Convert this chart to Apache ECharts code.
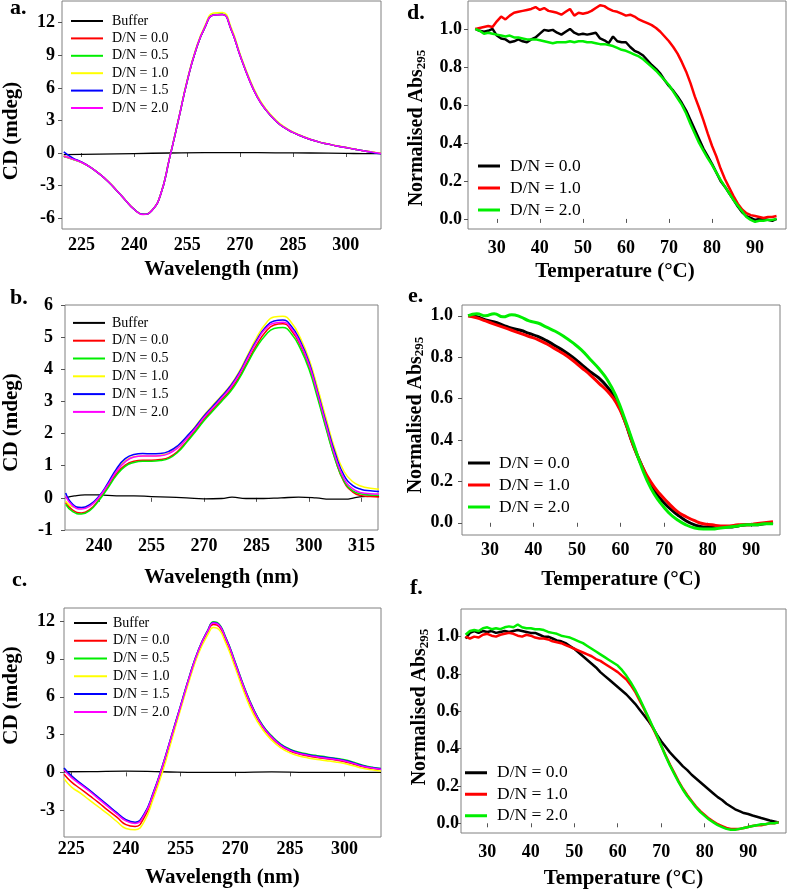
<!DOCTYPE html>
<html><head><meta charset="utf-8">
<script src="https://cdn.jsdelivr.net/npm/echarts@6/dist/echarts.min.js"></script>
<style>html,body{margin:0;padding:0;background:#fff}#c{width:787px;height:891px}</style>
</head><body><div id="c"></div>
<script>
// ---------------- DATA ----------------
// Panel a
const waveA = [220,222.5,225,227.5,230,232.5,235,237.5,240,242.5,245,247.5,250,252.5,255,257.5,260,262.5,265,267.5,270,272.5,275,277.5,280,282.5,285,287.5,290,292.5,295,297.5,300,302.5,305,307.5,310];
const bufXA = [220,230,240,250,260,270,280,290,300,305,310];
const bufA  = [-0.15,-0.1,-0.05,0.0,0.03,0.03,0.02,0.0,-0.03,-0.06,-0.05];
const cdA00 = [-0.3,-0.55,-0.85,-1.3,-1.9,-2.6,-3.45,-4.35,-5.2,-5.65,-5.3,-3.8,-0.5,3.0,6.6,9.5,11.55,12.7,12.75,11.35,9.0,6.85,5.1,3.9,3.0,2.35,1.9,1.55,1.25,1.0,0.82,0.65,0.5,0.35,0.2,0.08,-0.05];
const cdA05 = [-0.32,-0.57,-0.86,-1.3,-1.9,-2.6,-3.45,-4.35,-5.2,-5.65,-5.3,-3.8,-0.5,3.0,6.6,9.5,11.55,12.75,12.8,11.4,9.05,6.9,5.15,3.9,3.0,2.35,1.9,1.55,1.25,1.0,0.82,0.65,0.5,0.35,0.2,0.08,-0.05];
const cdA10 = [-0.28,-0.55,-0.85,-1.3,-1.88,-2.58,-3.43,-4.33,-5.18,-5.63,-5.28,-3.78,-0.45,3.05,6.7,9.62,11.7,12.9,12.95,11.55,9.15,7.0,5.25,4.0,3.1,2.42,1.95,1.6,1.28,1.02,0.84,0.67,0.52,0.36,0.21,0.09,-0.04];
const cdA15 = [0.1,-0.45,-0.82,-1.3,-1.9,-2.6,-3.45,-4.35,-5.2,-5.65,-5.3,-3.8,-0.5,3.0,6.6,9.5,11.55,12.7,12.75,11.35,9.0,6.85,5.1,3.9,3.0,2.35,1.9,1.55,1.25,1.0,0.82,0.65,0.5,0.35,0.2,0.05,-0.08];
const cdA20 = [-0.3,-0.55,-0.85,-1.3,-1.9,-2.6,-3.45,-4.35,-5.2,-5.67,-5.3,-3.8,-0.5,3.0,6.6,9.5,11.55,12.7,12.75,11.35,9.0,6.85,5.1,3.9,3.0,2.35,1.9,1.55,1.25,1.0,0.82,0.65,0.5,0.35,0.2,0.08,-0.05];
const xTicksA = [225,240,255,270,285,300];
const yTicksA = [-6,-3,0,3,6,9,12];

// Panel b
const waveB = [230.5,232.5,235,237.5,240,242.5,245,247.5,250,252.5,255,257.5,260,262.5,265,267.5,270,272.5,275,277.5,280,282.5,285,287.5,290,292.5,295,297.5,300,302.5,305,307.5,310,312.5,315,317.5,320];
const bufXB = [230.5,233,236,240,245,250,255,260,265,270,275,278,282,287,292,297,302,306,310,314,317,320];
const bufB  = [0.0,0.06,0.09,0.09,0.06,0.06,0.04,0.02,0.0,-0.03,-0.02,0.02,-0.02,-0.02,0.0,0.02,0.0,-0.04,-0.04,0.02,0.05,0.05];
const cdB00 = [-0.15,-0.38,-0.47,-0.35,-0.05,0.35,0.75,1.02,1.14,1.17,1.17,1.19,1.26,1.45,1.75,2.1,2.45,2.75,3.05,3.35,3.75,4.25,4.75,5.15,5.38,5.42,5.2,4.75,4.1,3.15,2.15,1.2,0.5,0.18,0.07,0.04,0.03];
const cdB05 = [-0.2,-0.43,-0.5,-0.38,-0.08,0.3,0.7,0.98,1.1,1.14,1.14,1.16,1.23,1.42,1.72,2.05,2.4,2.7,3.0,3.3,3.7,4.2,4.68,5.05,5.27,5.3,5.1,4.65,4.0,3.08,2.1,1.18,0.52,0.22,0.12,0.09,0.08];
const cdB10 = [-0.1,-0.28,-0.32,-0.22,0.02,0.42,0.85,1.15,1.28,1.3,1.3,1.32,1.4,1.58,1.88,2.22,2.57,2.88,3.18,3.5,3.92,4.45,4.98,5.4,5.63,5.65,5.45,4.98,4.32,3.4,2.42,1.48,0.82,0.5,0.36,0.3,0.27];
const cdB15 = [0.15,-0.2,-0.3,-0.2,0.05,0.45,0.9,1.22,1.35,1.38,1.37,1.38,1.45,1.62,1.9,2.2,2.55,2.85,3.15,3.47,3.88,4.4,4.9,5.3,5.5,5.53,5.33,4.88,4.22,3.28,2.3,1.38,0.7,0.38,0.26,0.22,0.2];
const cdB20 = [0.05,-0.25,-0.35,-0.25,0.02,0.4,0.82,1.12,1.27,1.3,1.3,1.31,1.38,1.55,1.83,2.15,2.5,2.8,3.1,3.42,3.83,4.35,4.85,5.25,5.43,5.46,5.26,4.8,4.15,3.22,2.22,1.28,0.6,0.28,0.16,0.13,0.12];
const xTicksB = [240,255,270,285,300,315];
const yTicksB = [-1,0,1,2,3,4,5,6];

// Panel c
const waveC = [223,225,227.5,230,232.5,235,237.5,240,242.5,245,247.5,250,252.5,255,257.5,260,262.5,264,265,267.5,270,272.5,275,277.5,280,282.5,285,287.5,290,292.5,295,297.5,300,302.5,305,307.5,310];
const bufXC = [223,230,240,250,260,270,280,290,300,310];
const bufC  = [0.05,0.06,0.1,0.05,0.0,0.0,0.04,0.0,0.0,0.0];
const cdC00 = [-0.15,-0.75,-1.3,-1.85,-2.4,-3.0,-3.55,-4.15,-4.3,-3.6,-1.85,0.3,2.75,5.2,7.6,9.7,11.2,11.75,11.7,10.45,8.55,6.55,4.85,3.6,2.75,2.1,1.7,1.45,1.3,1.18,1.08,0.98,0.85,0.65,0.45,0.32,0.22];
const cdC05 = [0.3,-0.3,-0.9,-1.45,-2.05,-2.65,-3.25,-3.8,-4.0,-3.35,-1.65,0.48,2.9,5.3,7.7,9.8,11.3,11.95,11.9,10.65,8.75,6.75,5.05,3.75,2.9,2.25,1.85,1.6,1.45,1.33,1.23,1.12,1.0,0.8,0.56,0.4,0.3];
const cdC10 = [-0.5,-1.15,-1.65,-2.2,-2.75,-3.3,-3.9,-4.45,-4.55,-3.9,-2.1,0.0,2.5,5.0,7.4,9.5,10.95,11.5,11.45,10.2,8.3,6.3,4.6,3.4,2.55,1.95,1.55,1.3,1.15,1.02,0.93,0.83,0.7,0.52,0.33,0.2,0.1];
const cdC15 = [0.35,-0.25,-0.85,-1.4,-2.0,-2.6,-3.2,-3.75,-3.95,-3.3,-1.6,0.5,2.9,5.3,7.7,9.8,11.3,11.9,11.85,10.6,8.7,6.7,5.0,3.7,2.85,2.2,1.8,1.55,1.4,1.28,1.18,1.08,0.95,0.75,0.52,0.38,0.28];
const cdC20 = [0.2,-0.4,-0.95,-1.5,-2.1,-2.7,-3.3,-3.85,-4.05,-3.4,-1.7,0.45,2.85,5.25,7.65,9.75,11.25,11.85,11.8,10.55,8.65,6.65,4.95,3.65,2.8,2.15,1.75,1.5,1.35,1.23,1.13,1.03,0.9,0.7,0.48,0.35,0.25];
const xTicksC = [225,240,255,270,285,300];
const yTicksC = [-3,0,3,6,9,12];

// Panel d
const tempD = [25,26,27,28,29,30,31,32,33,34,35,36,37,38,39,40,41,42,43,44,45,46,47,48,49,50,51,52,53,54,55,56,57,58,59,60,61,62,63,64,65,66,67,68,69,70,71,72,73,74,75,76,77,78,79,80,81,82,83,84,85,86,87,88,89,90,91,92,93,94,95];
const absD00 = [1.0,0.99,0.985,0.99,1.0,0.965,0.95,0.945,0.93,0.935,
  0.945,0.935,0.93,0.945,0.955,0.975,0.995,0.99,0.995,0.98,
  0.97,0.985,1.0,0.98,0.97,0.975,0.97,0.975,0.98,0.95,
  0.94,0.925,0.96,0.935,0.93,0.93,0.905,0.885,0.875,0.86,
  0.835,0.81,0.79,0.765,0.73,0.7,0.675,0.645,0.61,0.57,
  0.52,0.47,0.42,0.37,0.33,0.29,0.245,0.2,0.17,0.135,
  0.1,0.065,0.035,0.015,0.005,-0.005,0.0,0.0,-0.005,-0.01,0.0];
const absD10 = [1.0,1.005,1.01,1.015,1.01,1.04,1.065,1.05,1.07,1.085,
  1.09,1.095,1.1,1.105,1.115,1.1,1.11,1.095,1.09,1.085,
  1.075,1.09,1.105,1.07,1.085,1.08,1.085,1.095,1.11,1.125,
  1.12,1.105,1.095,1.09,1.08,1.07,1.075,1.065,1.05,1.04,
  1.03,1.02,1.005,0.985,0.96,0.935,0.905,0.87,0.825,0.775,
  0.715,0.645,0.585,0.52,0.45,0.385,0.33,0.265,0.21,0.165,
  0.12,0.08,0.05,0.03,0.02,0.015,0.01,0.005,0.01,0.01,0.015];
const absD20 = [1.0,0.99,0.975,0.98,0.975,0.97,0.965,0.96,0.965,0.955,
  0.955,0.95,0.945,0.945,0.945,0.94,0.935,0.93,0.925,0.93,
  0.93,0.93,0.935,0.93,0.935,0.935,0.93,0.93,0.925,0.92,
  0.92,0.915,0.91,0.9,0.89,0.885,0.875,0.865,0.855,0.84,
  0.82,0.8,0.78,0.755,0.73,0.705,0.67,0.635,0.6,0.555,
  0.5,0.45,0.4,0.36,0.32,0.285,0.245,0.205,0.17,0.135,
  0.1,0.07,0.04,0.01,-0.005,-0.015,-0.01,-0.01,-0.005,-0.005,0.0];
const xTicksT = [30,40,50,60,70,80,90];
const yTicksN = [0,0.2,0.4,0.6,0.8,1.0];

// Panel e
const tempE = [25,27,29,31,33,35,37,39,41,43,45,47,49,51,53,55,57,59,61,63,65,67,69,71,73,75,77,79,81,83,85,87,89,91,93,95];
const absE00 = [1.0,0.995,0.98,0.97,0.955,0.94,0.93,0.915,0.9,0.88,0.855,0.83,0.8,0.765,0.73,0.7,0.655,0.595,0.49,0.37,0.27,0.18,0.12,0.075,0.04,0.01,-0.01,-0.02,-0.02,-0.02,-0.02,-0.015,-0.01,-0.01,-0.005,0.0];
const absE10 = [1.0,0.99,0.975,0.96,0.945,0.93,0.915,0.9,0.885,0.865,0.84,0.815,0.785,0.75,0.715,0.675,0.635,0.58,0.49,0.37,0.27,0.195,0.14,0.095,0.055,0.03,0.01,-0.005,-0.01,-0.015,-0.015,-0.01,-0.01,-0.005,0.0,0.005];
const absE20 = [1.0,1.01,1.0,1.01,0.995,1.005,0.995,0.975,0.965,0.945,0.925,0.9,0.87,0.835,0.79,0.745,0.69,0.61,0.5,0.38,0.26,0.165,0.1,0.05,0.015,-0.01,-0.025,-0.03,-0.03,-0.025,-0.02,-0.015,-0.01,-0.01,-0.005,-0.005];

// Panel f
const tempF = [25,26,27,28,29,30,31,32,33,34,35,36,37,38,39,40,41,42,43,44,45,46,47,48,49,50,51,52,53,54,55,56,57,58,59,60,61,62,63,64,65,66,67,68,69,70,71,72,73,74,75,76,77,78,79,80,81,82,83,84,85,86,87,88,89,90,91,92,93,94,95,96,97];
const absF00 = [0.99,1.02,1.03,1.02,1.03,1.025,1.03,1.02,1.025,1.03,
  1.025,1.03,1.035,1.03,1.025,1.02,1.02,1.01,1.0,1.0,
  0.99,0.98,0.975,0.965,0.95,0.935,0.915,0.895,0.875,0.855,
  0.835,0.81,0.79,0.77,0.75,0.73,0.71,0.69,0.665,0.64,
  0.61,0.58,0.55,0.515,0.475,0.44,0.41,0.38,0.355,0.33,
  0.305,0.285,0.26,0.24,0.22,0.2,0.18,0.16,0.14,0.125,
  0.105,0.09,0.075,0.065,0.055,0.05,0.042,0.035,0.028,0.022,0.015,0.01,0.005];
const absF10 = [1.0,0.99,1.0,0.995,1.01,1.015,1.005,1.0,1.01,1.015,
  1.02,1.015,1.005,1.0,1.01,1.005,0.995,0.99,0.99,0.985,
  0.975,0.97,0.965,0.955,0.945,0.935,0.925,0.915,0.905,0.895,
  0.88,0.87,0.855,0.84,0.825,0.81,0.79,0.77,0.74,0.705,
  0.66,0.615,0.565,0.515,0.465,0.415,0.365,0.315,0.27,0.225,
  0.185,0.15,0.12,0.09,0.065,0.045,0.025,0.01,-0.005,-0.015,
  -0.025,-0.03,-0.03,-0.03,-0.025,-0.02,-0.015,-0.01,-0.01,-0.005,0.0,0.0,0.005];
const absF20 = [1.01,1.03,1.035,1.03,1.045,1.05,1.04,1.045,1.04,1.05,
  1.055,1.05,1.065,1.05,1.045,1.045,1.04,1.04,1.035,1.025,
  1.02,1.015,1.005,1.0,0.995,0.985,0.975,0.965,0.95,0.935,
  0.92,0.905,0.89,0.875,0.86,0.845,0.82,0.79,0.755,0.715,
  0.67,0.62,0.57,0.52,0.47,0.415,0.36,0.31,0.265,0.22,
  0.18,0.145,0.115,0.085,0.06,0.04,0.02,0.005,-0.01,-0.02,
  -0.03,-0.035,-0.035,-0.03,-0.025,-0.02,-0.015,-0.01,-0.005,-0.005,0.0,0.0,0.005];

const cdNames = ['Buffer','D/N = 0.0','D/N = 0.5','D/N = 1.0','D/N = 1.5','D/N = 2.0'];
const cdColors = ['#000000','#ff0000','#00ee00','#ffff00','#0000ff','#ff00ff'];
const tmNames = ['D/N = 0.0','D/N = 1.0','D/N = 2.0'];
const tmColors = ['#000000','#ff0000','#00ee00'];

// ---------------- CHART ----------------
const FONT = "'Liberation Serif','Times New Roman',serif";
function pairs(xs, ys){ return xs.map((x,i)=>[x, ys[i]]); }

const gridsPos = [
  {left:62, top:1, width:319, height:228},
  {left:65, top:305, width:313, height:225},
  {left:64, top:608, width:317, height:229},
  {left:468, top:1, width:318, height:228},
  {left:462, top:305, width:318, height:230},
  {left:461, top:609, width:325, height:224}
];
const grid = gridsPos.map(g => Object.assign({show:true, borderColor:'#808080', borderWidth:1, backgroundColor:'transparent', containLabel:false, outerBoundsMode:'none'}, g));

const tickStyle = {show:true, inside:false, length:4, lineStyle:{color:'#555', width:1}};
function xAx(gi, min, max, ticks, name, gap, margin, namePad){
  return {type:'value', gridIndex:gi, min:min, max:max, name:name, nameLocation:'middle', nameGap:gap,
    nameTextStyle:{fontFamily:FONT, fontWeight:'bold', fontSize:21, color:'#000', padding:namePad||0},
    axisLine:{show:false}, axisTick:Object.assign({customValues:ticks}, tickStyle), splitLine:{show:false},
    axisLabel:{customValues:ticks, margin:margin, fontFamily:FONT, fontWeight:'bold', fontSize:18, color:'#000'}};
}
function yAx(gi, min, max, ticks, name, gap, margin, namePad, dec, rich){
  const o = {type:'value', gridIndex:gi, min:min, max:max, name:name, nameLocation:'middle', nameGap:gap,
    nameTextStyle:{fontFamily:FONT, fontWeight:'bold', fontSize:21, color:'#000', padding:namePad||0},
    axisLine:{show:false}, axisTick:Object.assign({customValues:ticks}, tickStyle), splitLine:{show:false},
    axisLabel:{customValues:ticks, margin:margin, fontFamily:FONT, fontWeight:'bold', fontSize:18, color:'#000',
      formatter: dec ? (v => Number(v).toFixed(1)) : (v => String(v))}};
  if (rich) o.nameTextStyle.rich = rich;
  return o;
}
const absRich = {
  m:{fontFamily:FONT, fontWeight:'bold', fontSize:20, color:'#000', lineHeight:22},
  s:{fontFamily:FONT, fontWeight:'bold', fontSize:13, color:'#000', lineHeight:13, verticalAlign:'bottom'}
};
const absName = '{m|Normalised Abs}{s|295}';

const xAxis = [
  xAx(0, 219.5, 310, xTicksA, 'Wavelength (nm)', 30, 7),
  xAx(1, 230.3, 319.7, xTicksB, 'Wavelength (nm)', 37, 7),
  xAx(2, 223, 310, xTicksC, 'Wavelength (nm)', 30, 3),
  xAx(3, 23.3, 97.2, xTicksT, 'Temperature (\u00B0C)', 32, 10, [0,24,0,0]),
  xAx(4, 23.6, 96.6, xTicksT, 'Temperature (\u00B0C)', 34, 6),
  xAx(5, 23.95, 98.7, xTicksT, 'Temperature (\u00B0C)', 35, 10)
];
const yAxis = [
  yAx(0, -7, 14, yTicksA, 'CD (mdeg)', 40, 7, [0,32,0,0]),
  yAx(1, -1, 6, yTicksB, 'CD (mdeg)', 43, 12, [0,10,0,0]),
  yAx(2, -5.13, 13.05, yTicksC, 'CD (mdeg)', 42, 9, [0,0,0,54]),
  yAx(3, -0.053, 1.147, yTicksN, absName, 40, 6, [0,26,0,0], true, absRich),
  yAx(4, -0.059, 1.052, yTicksN, absName, 34, 9, [0,0,0,10], true, absRich),
  yAx(5, -0.052, 1.148, yTicksN, absName, 30, 2, [0,0,0,28], true, absRich)
];

const series = [];
function addCD(p, gi, bufX, buf, xs, sets){
  const all = [[bufX, buf]].concat(sets.map(s => [xs, s]));
  all.forEach((d, i) => {
    series.push({type:'line', name:p + '|' + cdNames[i], xAxisIndex:gi, yAxisIndex:gi,
      data:pairs(d[0], d[1]), showSymbol:false, symbol:'none', smooth:true,
      color:cdColors[i], lineStyle:{width: i === 0 ? 1.3 : 1.5, color:cdColors[i]}, z: 2 + i});
  });
}
function addTM(p, gi, xs, sets, w, smooth){
  sets.forEach((s, i) => {
    series.push({type:'line', name:p + '|' + tmNames[i], xAxisIndex:gi, yAxisIndex:gi,
      data:pairs(xs, s), showSymbol:false, symbol:'none', smooth:smooth,
      color:tmColors[i], lineStyle:{width:w, color:tmColors[i]}, z: 2 + i});
  });
}
addCD('a', 0, bufXA, bufA, waveA, [cdA00, cdA05, cdA10, cdA15, cdA20]);
addCD('b', 1, bufXB, bufB, waveB, [cdB00, cdB05, cdB10, cdB15, cdB20]);
addCD('c', 2, bufXC, bufC, waveC, [cdC00, cdC05, cdC10, cdC15, cdC20]);
addTM('d', 3, tempD, [absD00, absD10, absD20], 2.5, false);
addTM('e', 4, tempE, [absE00, absE10, absE20], 3, true);
addTM('f', 5, tempF, [absF00, absF10, absF20], 2.5, false);

function legend(p, names, left, top, fs, lh, iw, ih, pad){
  return {orient:'vertical', left:left, top:top, padding:0, itemGap:0, itemWidth:iw, itemHeight:ih,
    icon:'rect', selectedMode:false, data:names.map(n => p + '|' + n),
    formatter: n => n.split('|')[1],
    lineStyle:{width:ih},
    textStyle:{fontFamily:FONT, fontSize:fs, lineHeight:lh, color:'#000', padding:[0,0,0,pad]}};
}
const legends = [
  legend('a', cdNames, 71, 12.3, 14, 17.4, 32, 2, 4),
  legend('b', cdNames, 73, 314, 14, 17.8, 32, 2, 2),
  legend('c', cdNames, 74, 614, 14, 17.8, 33, 2, 1),
  legend('d', tmNames, 478, 155, 17.5, 22, 22, 3, 5),
  legend('e', tmNames, 468, 452, 17.5, 22, 22, 3, 4),
  legend('f', tmNames, 465, 762, 17.5, 21.5, 22, 3, 5)
];

const letters = [['a.',10,8],['b.',10,298],['c.',12,580],['d.',407,13],['e.',408,296],['f.',410,588]];
const graphic = letters.map(l => ({type:'text', x:l[1], y:l[2], z:100,
  style:{text:l[0], fontFamily:FONT, fontWeight:'bold', fontSize:22, fill:'#000', verticalAlign:'middle', align:'left'}}));

const chart = echarts.init(document.getElementById('c'), null, {renderer:'canvas'});
chart.setOption({animation:false, backgroundColor:'#fff', grid:grid, xAxis:xAxis, yAxis:yAxis,
  legend:legends, series:series, graphic:graphic});
</script></body></html>
